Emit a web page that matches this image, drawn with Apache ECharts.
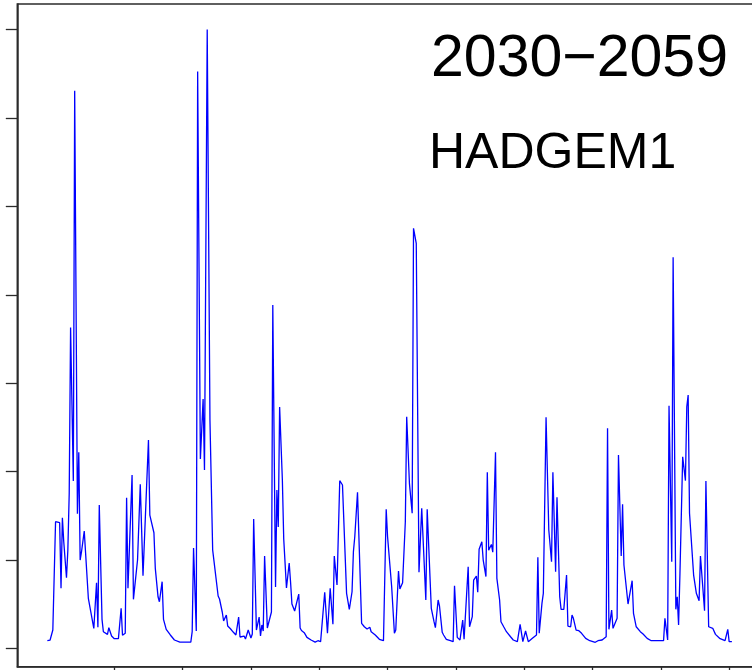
<!DOCTYPE html>
<html>
<head>
<meta charset="utf-8">
<script src="https://cdn.jsdelivr.net/npm/echarts@6/dist/echarts.min.js"></script>
<style>html,body{margin:0;padding:0;background:#fff}#c{width:752px;height:670px}</style>
</head>
<body>
<div id="c"></div>
<script>
// time index (weeks) and flow values
const weeks = [1,3,5,7,10,11,12,13,15,16,17,18,20,21,23,24,25,26,28,31,35,37,38,39,41,42,45,46,48,50,53,55,56,58,59,60,61,63,64,67,69,71,75,76,79,80,82,83,85,86,88,91,94,98,106,107,108,110,111,113,115,116,118,120,122,123,126,127,129,130,132,133,135,137,139,141,142,145,146,148,150,151,152,154,156,157,158,159,160,162,163,165,166,168,169,170,171,173,174,176,178,179,180,182,183,185,186,187,189,191,194,197,199,201,204,206,208,210,211,213,214,215,217,220,222,223,224,225,226,228,231,233,235,237,238,241,244,247,249,250,253,255,256,257,258,259,261,263,264,266,268,269,271,273,275,278,279,282,284,285,287,288,290,291,293,296,298,299,301,303,305,306,309,310,312,313,315,316,317,319,320,322,323,324,326,327,329,330,332,333,335,337,340,342,345,347,349,351,353,356,357,359,360,361,363,364,366,368,370,371,373,374,376,377,379,381,382,384,385,386,388,390,392,395,398,402,404,407,410,411,412,414,415,418,419,421,422,423,426,429,430,432,435,437,440,443,452,453,455,456,458,459,461,462,463,464,466,468,469,470,471,474,476,478,479,482,483,485,488,490,493,497,499,500,502];
const flow = [8.6,9.4,20.7,143.3,142.1,67.9,147.8,120.6,79.9,111.2,175.4,363.0,189.3,630.9,152.3,221.8,99.9,109.3,132.7,56.6,22.6,74.2,23.8,162.2,32.8,18.8,15.8,23.3,13.9,10.9,10.9,45.3,14.7,17.0,170.4,67.9,69.7,196.1,55.4,99.9,185.6,82.2,235.7,150.8,130.8,90.5,58.4,52.7,75.4,32.8,21.5,15.1,9.4,7.1,7.1,18.8,113.5,19.6,652.7,214.2,282.1,201.8,700.2,258.3,111.2,112.4,59.2,55.8,41.1,30.9,37.7,25.2,22.1,18.4,15.1,35.4,12.8,13.9,10.5,20.7,11.7,16.2,146.3,20.7,35.4,13.9,26.4,19.6,104.4,23.0,23.0,41.1,388.5,69.4,179.1,137.3,273.1,190.4,123.7,68.2,96.5,75.0,50.1,42.2,41.1,61.4,23.0,20.1,17.7,12.4,9.4,7.1,8.6,7.5,63.4,17.0,67.9,27.2,104.4,71.6,69.7,189.7,184.8,62.2,44.1,45.3,64.0,109.3,126.3,176.5,28.3,24.4,21.8,23.8,18.8,15.1,10.2,8.6,157.3,126.3,69.7,17.0,20.7,19.6,87.5,67.1,74.2,143.3,262.1,186.7,152.8,475.3,458.3,86.0,158.4,54.7,157.3,45.3,30.1,23.3,54.7,47.9,18.1,15.1,10.2,8.6,7.5,70.8,12.4,9.4,32.0,10.2,92.3,24.4,35.8,77.3,81.8,63.4,112.0,120.6,99.9,81.2,199.2,110.9,117.5,108.7,221.9,79.2,54.7,30.1,24.4,18.8,13.1,9.4,7.5,27.2,7.5,19.6,7.5,11.3,12.4,15.1,103.0,17.0,50.9,62.2,261.4,133.9,98.0,199.2,86.7,170.9,58.4,44.1,44.1,82.9,25.2,24.4,37.7,33.9,20.7,19.9,17.0,11.3,8.6,6.8,8.6,9.4,13.1,249.0,21.5,43.3,22.6,33.9,218.7,104.4,163.0,94.3,50.1,76.5,39.6,24.4,18.8,16.2,11.3,8.6,8.6,33.9,9.4,274.5,98.0,442.5,44.1,58.4,26.4,84.9,216.8,189.7,273.4,286.6,152.8,82.9,62.2,53.9,104.4,42.5,189.3,24.4,22.6,15.8,11.3,8.6,21.5,7.5,7.5];
const yTicks = [0,100,200,300,400,500,600,700];
const xTicks = [50,100,150,200,250,300,350,400,450,500];
const titleLines = ['2030\u22122059','HADGEM1'];

const chart = echarts.init(document.getElementById('c'), null, {renderer:'canvas'});
const axisColor = '#2b2b2b';
chart.setOption({
  animation:false,
  backgroundColor:'#ffffff',
  grid:{left:17.3,top:4,width:746,height:662.7,outerBoundsMode:'none',containLabel:false,
    show:true,borderColor:axisColor,borderWidth:1.5,backgroundColor:'transparent'},
  xAxis:{type:'value',min:-21,max:525,
    axisLine:{show:true,onZero:false,lineStyle:{color:axisColor,width:1.5}},
    axisTick:{show:true,inside:false,length:10,customValues:xTicks,lineStyle:{color:axisColor,width:1.3}},
    axisLabel:{show:false,customValues:xTicks},
    splitLine:{show:false}},
  yAxis:{type:'value',min:-20.8,max:729.1,
    axisLine:{show:true,onZero:false,lineStyle:{color:axisColor,width:1.5}},
    axisTick:{show:true,inside:false,length:11.5,customValues:yTicks,lineStyle:{color:axisColor,width:1.3}},
    axisLabel:{show:false,customValues:yTicks},
    splitLine:{show:false}},
  series:[{type:'line',data:weeks.map((w,i)=>[w,flow[i]]),showSymbol:false,
    lineStyle:{color:'#0000ff',width:1.3},itemStyle:{color:'#0000ff'}}],
  graphic:[
    {type:'text',left:431,top:30,style:{text:titleLines[0],font:'59px "Liberation Sans", Arial, sans-serif',fill:'#000'}},
    {type:'text',left:429,top:129,style:{text:titleLines[1],font:'50px "Liberation Sans", Arial, sans-serif',fill:'#000'}}
  ]
});
</script>
</body>
</html>
